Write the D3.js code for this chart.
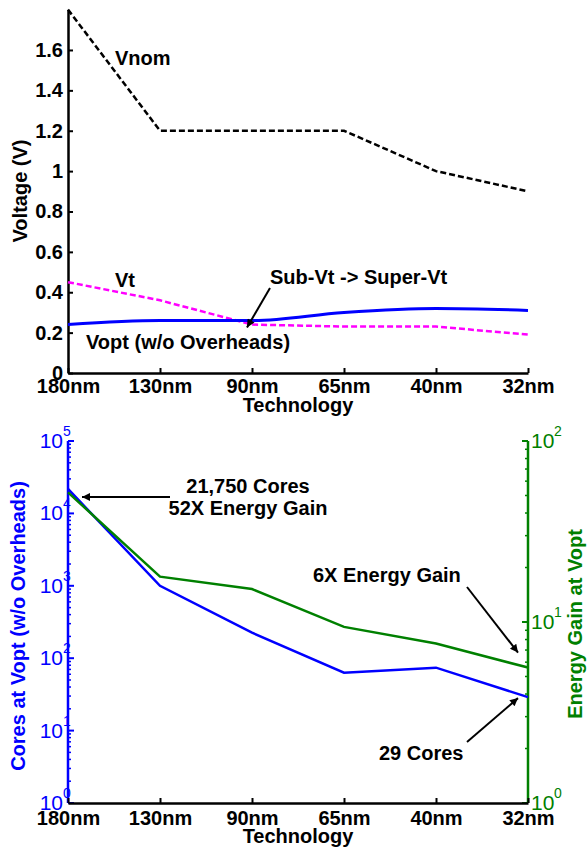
<!DOCTYPE html>
<html><head><meta charset="utf-8">
<script src="https://cdn.jsdelivr.net/npm/d3@7"></script>
<style>
body{margin:0;background:#fff}
svg text{font-family:"Liberation Sans",Arial,Helvetica,sans-serif}
</style>
</head><body>
<svg id="c" width="587" height="850"></svg>
<script>
// ---- data ----
const techLabels = ["180nm","130nm","90nm","65nm","40nm","32nm"];
const vnom = [1.8, 1.2, 1.2, 1.2, 1.0, 0.9];
const vt   = [0.45, 0.36, 0.24, 0.23, 0.23, 0.19];
const vopt = [0.24, 0.26, 0.26, 0.30, 0.32, 0.31];
const voltTicks = [0, 0.2, 0.4, 0.6, 0.8, 1, 1.2, 1.4, 1.6];
const cores = [21750, 1000, 225, 63, 74, 29];
const energyGain = [52, 17.8, 15.2, 9.4, 7.6, 5.6];
const coreExponents = [0, 1, 2, 3, 4, 5];
const gainExponents = [0, 1, 2];

const BLUE = "#0000ff", GREEN = "#008000", MAG = "#ff00ff";
const FS = 20;
const svg = d3.select("#c");

svg.append("defs").append("marker")
  .attr("id","ah").attr("viewBox","0 0 10 10").attr("refX",10).attr("refY",5)
  .attr("markerWidth",11).attr("markerHeight",8).attr("markerUnits","userSpaceOnUse")
  .attr("orient","auto")
  .append("path").attr("d","M0,0 L10,5 L0,10 z").attr("fill","#000");

function arrow(g, x1, y1, x2, y2){
  g.append("line").attr("x1",x1).attr("y1",y1).attr("x2",x2).attr("y2",y2)
   .attr("stroke","#000").attr("stroke-width",2).attr("marker-end","url(#ah)");
}
function label(g, txt, x, y, opts={}){
  return g.append("text").attr("x",x).attr("y",y).text(txt)
   .attr("font-size",opts.size||FS).attr("font-weight",opts.weight||"bold")
   .attr("fill",opts.fill||"#000").attr("text-anchor",opts.anchor||"start");
}

const x = d3.scalePoint(techLabels, [68, 528]);

// ================= TOP CHART =================
const gTop = svg.append("g");
const yV = d3.scaleLinear([0, 1.8], [373, 9.6]);

const yAx = gTop.append("g").attr("transform","translate(68,0)")
  .call(d3.axisLeft(yV).tickValues(voltTicks).tickFormat(d=>String(d))
        .tickSize(-5).tickSizeOuter(0).tickPadding(5));
const xAx = gTop.append("g").attr("transform","translate(0,373)")
  .call(d3.axisBottom(x).tickSize(-5).tickSizeOuter(0).tickPadding(6));
[yAx,xAx].forEach(a=>{
  a.select(".domain").attr("stroke","#000").attr("stroke-width",2.5);
  a.selectAll(".tick line").attr("stroke","#000").attr("stroke-width",2);
  a.selectAll("text").attr("font-size",FS).attr("font-weight","bold").attr("fill","#000")
    .attr("font-family",'"Liberation Sans",Arial,sans-serif');
});

const lineV = d3.line().x((d,i)=>x(techLabels[i])).y(d=>yV(d));
gTop.append("path").datum(vnom).attr("d",lineV).attr("fill","none")
  .attr("stroke","#000").attr("stroke-width",2.5).attr("stroke-dasharray","6,3");
gTop.append("path").datum(vt).attr("d",lineV).attr("fill","none")
  .attr("stroke",MAG).attr("stroke-width",2.5).attr("stroke-dasharray","6,3");
gTop.append("path").datum(vopt).attr("d",lineV.curve(d3.curveMonotoneX)).attr("fill","none")
  .attr("stroke",BLUE).attr("stroke-width",3);

label(gTop,"Vnom",115,65);
label(gTop,"Vt",115,287);
label(gTop,"Vopt (w/o Overheads)",86,349);
label(gTop,"Sub-Vt -> Super-Vt",270,284);
arrow(gTop, 270, 288, x(techLabels[2]) - 5, yV(vopt[2]) + 7);

label(gTop,"Technology",298,412,{anchor:"middle"});
label(gTop,"Voltage (V)",0,0,{anchor:"middle"})
  .attr("transform","translate(27,191) rotate(-90)");

// ================= BOTTOM CHART =================
const bot = svg.append("g");
const yC = d3.scaleLog([1, 1e5], [803, 441]);
const yG = d3.scaleLog([1, 1e2], [803, 441]);

// left axis (blue)
bot.append("line").attr("x1",68).attr("x2",68).attr("y1",yC(1e5)).attr("y2",yC(1))
  .attr("stroke",BLUE).attr("stroke-width",2.5);
coreExponents.forEach(e=>{
  const v = Math.pow(10,e);
  bot.append("line").attr("x1",68).attr("x2",74).attr("y1",yC(v)).attr("y2",yC(v))
    .attr("stroke",BLUE).attr("stroke-width",2);
  if(e<5) for(let k=2;k<=9;k++){
    bot.append("line").attr("x1",68).attr("x2",71).attr("y1",yC(k*v)).attr("y2",yC(k*v))
      .attr("stroke",BLUE).attr("stroke-width",1.5);
  }
  bot.append("text").attr("x",63).attr("y",yC(v)+7).attr("text-anchor","end")
    .attr("fill",BLUE).attr("font-size",21).text("10");
  bot.append("text").attr("x",63).attr("y",yC(v)-5).attr("fill",BLUE).attr("font-size",14).text(String(e));
});

// right axis (green)
bot.append("line").attr("x1",528).attr("x2",528).attr("y1",yG(1e2)).attr("y2",yG(1))
  .attr("stroke",GREEN).attr("stroke-width",2.5);
gainExponents.forEach(e=>{
  const v = Math.pow(10,e);
  bot.append("line").attr("x1",528).attr("x2",522).attr("y1",yG(v)).attr("y2",yG(v))
    .attr("stroke",GREEN).attr("stroke-width",2);
  if(e<2) for(let k=2;k<=9;k++){
    bot.append("line").attr("x1",528).attr("x2",525).attr("y1",yG(k*v)).attr("y2",yG(k*v))
      .attr("stroke",GREEN).attr("stroke-width",1.5);
  }
  bot.append("text").attr("x",531).attr("y",yG(v)+7).attr("fill",GREEN).attr("font-size",21).text("10");
  bot.append("text").attr("x",554).attr("y",yG(v)-5).attr("fill",GREEN).attr("font-size",14).text(String(e));
});

// bottom x axis
const xAx2 = bot.append("g").attr("transform","translate(0,803)")
  .call(d3.axisBottom(x).tickSize(-5).tickSizeOuter(0).tickPadding(8));
xAx2.select(".domain").attr("stroke","#000").attr("stroke-width",2.5);
xAx2.selectAll(".tick line").attr("stroke","#000").attr("stroke-width",2);
xAx2.selectAll("text").attr("font-size",FS).attr("font-weight","bold").attr("fill","#000")
  .attr("font-family",'"Liberation Sans",Arial,sans-serif');

const lineC = d3.line().x((d,i)=>x(techLabels[i])).y(d=>yC(d));
const lineG = d3.line().x((d,i)=>x(techLabels[i])).y(d=>yG(d));
bot.append("path").datum(cores).attr("d",lineC).attr("fill","none")
  .attr("stroke",BLUE).attr("stroke-width",2.5);
bot.append("path").datum(energyGain).attr("d",lineG).attr("fill","none")
  .attr("stroke",GREEN).attr("stroke-width",2.5);

// annotations
label(bot,"21,750 Cores",248,493,{anchor:"middle"});
label(bot,"52X Energy Gain",248,515,{anchor:"middle"});
arrow(bot, 170, 497, x(techLabels[0]) + 14, yC(cores[0]) + 8);
label(bot,"6X Energy Gain",313,582);
arrow(bot, 467, 587, x(techLabels[5]) - 10, yG(energyGain[5]) - 15);
label(bot,"29 Cores",379,760);
arrow(bot, 467, 742, x(techLabels[5]) - 10, yC(cores[5]) + 1);

label(bot,"Technology",298,843,{anchor:"middle"});
label(bot,"Cores at Vopt (w/o Overheads)",0,0,{anchor:"middle",fill:BLUE})
  .attr("transform","translate(25,626) rotate(-90)");
label(bot,"Energy Gain at Vopt",0,0,{anchor:"middle",fill:GREEN})
  .attr("transform","translate(582,624) rotate(-90)");
</script>
</body></html>
